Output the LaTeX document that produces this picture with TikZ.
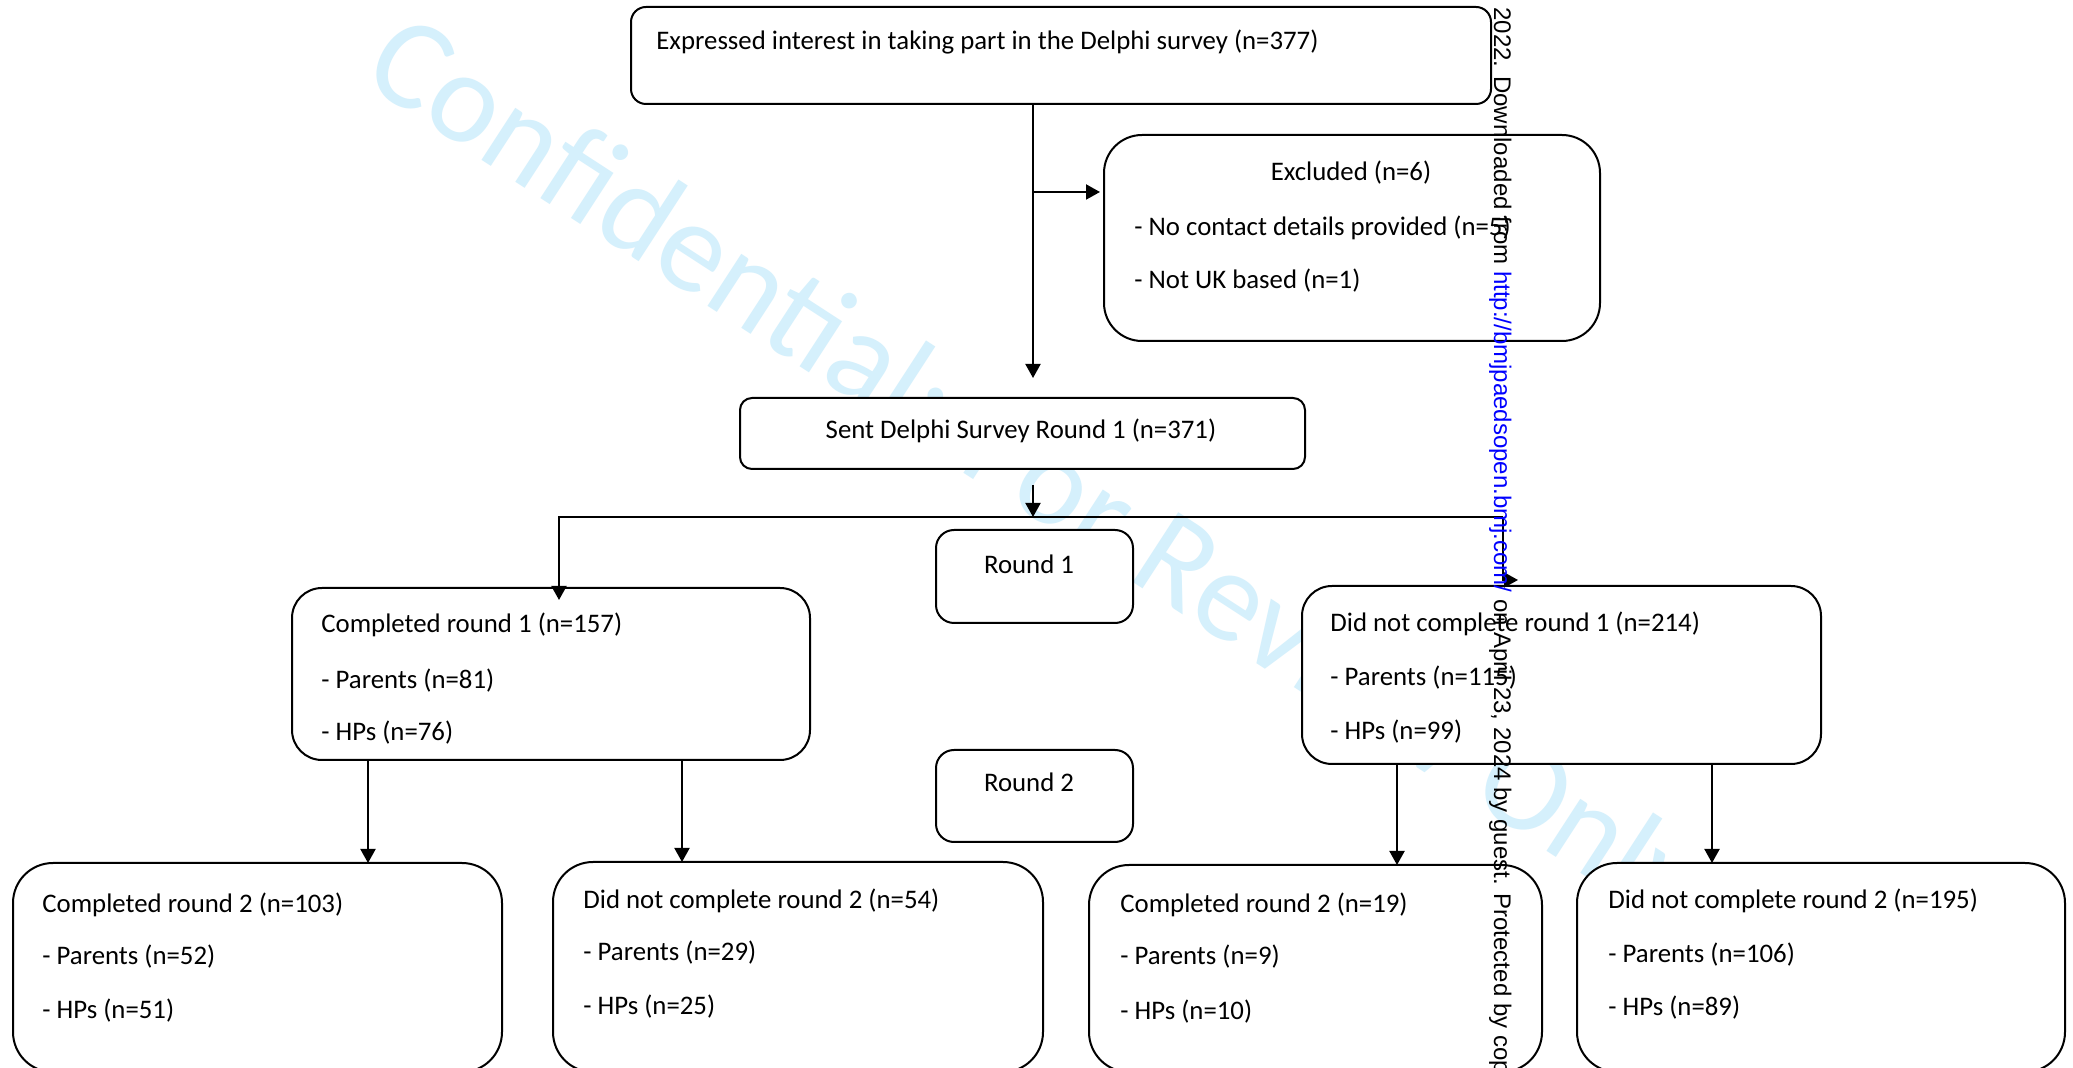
\documentclass[tikz,border=0pt]{standalone}
\usepackage{fontspec}
\setmainfont{Carlito}
\newfontfamily\arialf{Liberation Sans}
\usetikzlibrary{arrows.meta}
\definecolor{wmblue}{RGB}{213,240,252}
\definecolor{linkblue}{RGB}{0,0,255}
\begin{document}
\begin{tikzpicture}[x=0.5pt,y=-0.5pt,
  box/.style={draw=black,fill=white,line width=1pt,rounded corners=#1,inner sep=0pt,outer sep=0pt},
  box/.default=15pt,
  txt/.style={font=\fontsize{13.4}{16}\selectfont,inner sep=0pt,anchor=west},
  ctxt/.style={font=\fontsize{13.4}{16}\selectfont,inner sep=0pt,anchor=center},
  arr/.style={line width=1pt,-{Triangle[length=7pt,width=7.5pt]}},
  conn/.style={line width=1pt}]
\useasboundingbox (0,0) rectangle (2073,1068);
\fill[white] (0,0) rectangle (2073,1068);
\clip (0,0) rectangle (2073,1068);

% watermark
\node[rotate=-33,anchor=base west,inner sep=0pt,text=wmblue,
  font=\fontsize{65}{70}\selectfont] (wm) at (359,80) {Confidential: For Review Only};

% boxes
\node[box=7.5pt,minimum width=430pt,minimum height=48.5pt] (top) at (1061,55.5) {};
\node[box=19pt,minimum width=248pt,minimum height=103pt] (excl) at (1352,238) {};
\node[box=6pt,minimum width=282.5pt,minimum height=35.5pt] (sent) at (1022.5,433.5) {};
\node[box=9pt,minimum width=98.5pt,minimum height=46.5pt] (r1) at (1034.5,576.5) {};
\node[box=9pt,minimum width=98.5pt,minimum height=46pt] (r2) at (1034.5,796) {};
\node[box=15pt,minimum width=259pt,minimum height=86pt] (c1) at (551,674) {};
\node[box=15pt,minimum width=259.5pt,minimum height=89pt] (n1) at (1561.5,675) {};
\node[box=20pt,minimum width=244.5pt,minimum height=104.5pt] (bA) at (257.5,967.5) {};
\node[box=20pt,minimum width=245pt,minimum height=105pt] (bB) at (798,967) {};
\node[box=20pt,minimum width=226.5pt,minimum height=103.5pt] (bC) at (1315.5,968.5) {};
\node[box=20pt,minimum width=244pt,minimum height=104.5pt] (bD) at (1821,967.5) {};

% texts
\node[txt] (t0) at (656,42) {Expressed interest in taking part in the Delphi survey (n=377)};
\node[ctxt] (te1) at (1351,173) {Excluded (n=6)};
\node[txt] (te2) at (1134,228) {- No contact details provided (n=5)};
\node[txt] (te3) at (1134,281) {- Not UK based (n=1)};
\node[ctxt] (ts) at (1021,431) {Sent Delphi Survey Round 1 (n=371)};
\node[ctxt] (tr1) at (1029,564) {Round 1};
\node[ctxt] (tr2) at (1029,782) {Round 2};
\node[txt] (tc1) at (321,625) {Completed round 1 (n=157)};
\node[txt] (tc2) at (321,681) {- Parents (n=81)};
\node[txt] (tc3) at (321,733) {- HPs (n=76)};
\node[txt] (tn1) at (1330,624) {Did not complete round 1 (n=214)};
\node[txt] (tn2) at (1330,678) {- Parents (n=115)};
\node[txt] (tn3) at (1330,732) {- HPs (n=99)};
\node[txt] (ta1) at (42,905) {Completed round 2 (n=103)};
\node[txt] (ta2) at (42,957) {- Parents (n=52)};
\node[txt] (ta3) at (42,1011) {- HPs (n=51)};
\node[txt] (tb1) at (583,901) {Did not complete round 2 (n=54)};
\node[txt] (tb2) at (583,953) {- Parents (n=29)};
\node[txt] (tb3) at (583,1007) {- HPs (n=25)};
\node[txt] (tcc1) at (1120,905) {Completed round 2 (n=19)};
\node[txt] (tcc2) at (1120,957) {- Parents (n=9)};
\node[txt] (tcc3) at (1120,1012) {- HPs (n=10)};
\node[txt] (td1) at (1608,901) {Did not complete round 2 (n=195)};
\node[txt] (td2) at (1608,955) {- Parents (n=106)};
\node[txt] (td3) at (1608,1008) {- HPs (n=89)};

% connectors
\coordinate (mx) at (1033,0);
\coordinate (e1) at (1033,192);
\coordinate (hL) at (559,517);
\coordinate (hR) at (1503,517);
\coordinate (hD) at (1503,580);
\coordinate (hT) at (1518,580);
\coordinate (a1) at (368,0);
\coordinate (a2) at (682,0);
\coordinate (a3) at (1397,0);
\coordinate (a4) at (1712,0);
\draw[arr,shorten >=10pt] (top.south -| mx) -- (sent.north -| mx);
\draw[arr,shorten >=2pt] (e1) -- (excl.west |- e1);
\draw[arr,shorten <=8pt] (sent.south -| mx) -- (mx |- hL);
\draw[arr,shorten >=-6pt] (hR) -- (hL) -- (hL |- c1.north);
\draw[arr] (hR) -- (hD) -- (hT);
\draw[arr] (c1.south -| a1) -- (bA.north -| a1);
\draw[arr] (c1.south -| a2) -- (bB.north -| a2);
\draw[arr] (n1.south -| a3) -- (bC.north -| a3);
\draw[arr] (n1.south -| a4) -- (bD.north -| a4);

% side note
\node[rotate=-90,anchor=base west,inner sep=0pt,font=\arialf\fontsize{12}{14}\selectfont] (side) at (1494,7)
  {2022. Downloaded from \textcolor{linkblue}{http://bmjpaedsopen.bmj.com/} on April 23, 2024 by guest. Protected by cop};
\end{tikzpicture}
\end{document}
